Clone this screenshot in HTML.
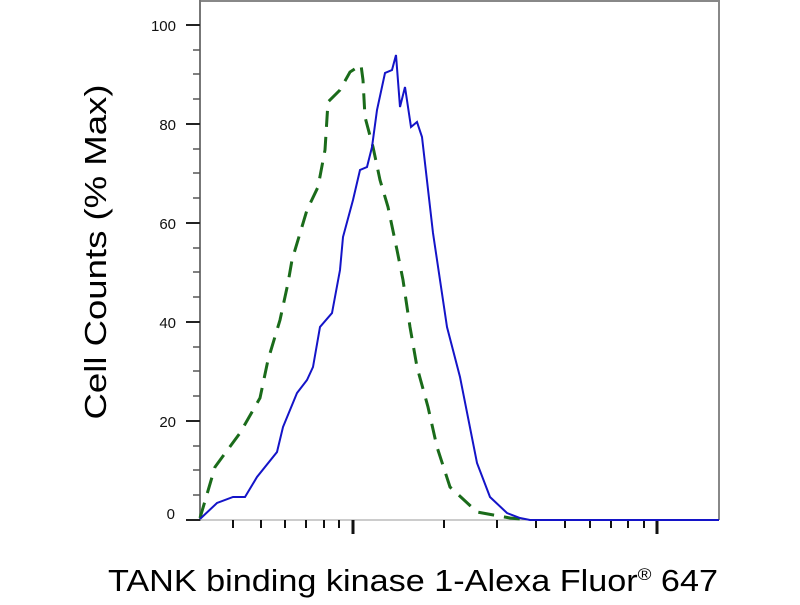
<!DOCTYPE html>
<html><head><style>html,body{margin:0;padding:0;background:#fff}</style></head>
<body>
<svg width="800" height="600" xmlns="http://www.w3.org/2000/svg" font-family="Liberation Sans, sans-serif">
<rect width="800" height="600" fill="#fff"/>
<polyline points="200,1 719,1 719,520" fill="none" stroke="#888" stroke-width="2"/>
<line x1="200" y1="0" x2="200" y2="521" stroke="#777" stroke-width="2"/>
<line x1="190" y1="520" x2="719" y2="520" stroke="#999" stroke-width="1"/>
<g stroke="#222" stroke-width="2">
<line x1="186" y1="520" x2="200" y2="520"/><line x1="186" y1="421" x2="200" y2="421"/><line x1="186" y1="322" x2="200" y2="322"/><line x1="186" y1="223" x2="200" y2="223"/><line x1="186" y1="124" x2="200" y2="124"/><line x1="186" y1="25" x2="200" y2="25"/>
</g>
<g stroke="#555" stroke-width="1.5">
<line x1="193" y1="470" x2="200" y2="470"/><line x1="193" y1="371" x2="200" y2="371"/><line x1="193" y1="272" x2="200" y2="272"/><line x1="193" y1="173" x2="200" y2="173"/><line x1="193" y1="74" x2="200" y2="74"/>
<line x1="193" y1="495" x2="200" y2="495"/><line x1="193" y1="446" x2="200" y2="446"/><line x1="193" y1="396" x2="200" y2="396"/><line x1="193" y1="347" x2="200" y2="347"/><line x1="193" y1="297" x2="200" y2="297"/><line x1="193" y1="248" x2="200" y2="248"/><line x1="193" y1="198" x2="200" y2="198"/><line x1="193" y1="149" x2="200" y2="149"/><line x1="193" y1="99" x2="200" y2="99"/><line x1="193" y1="50" x2="200" y2="50"/>
</g>
<g stroke="#111" stroke-width="2">
<line x1="233" y1="520" x2="233" y2="528"/><line x1="261" y1="520" x2="261" y2="528"/><line x1="285" y1="520" x2="285" y2="528"/><line x1="306" y1="520" x2="306" y2="528"/><line x1="324" y1="520" x2="324" y2="528"/><line x1="339" y1="520" x2="339" y2="528"/>
<line x1="353" y1="520" x2="353" y2="534" stroke-width="3"/>
<line x1="444" y1="520" x2="444" y2="528"/><line x1="497" y1="520" x2="497" y2="528"/><line x1="536" y1="520" x2="536" y2="528"/><line x1="565" y1="520" x2="565" y2="528"/><line x1="590" y1="520" x2="590" y2="528"/><line x1="611" y1="520" x2="611" y2="528"/><line x1="628" y1="520" x2="628" y2="528"/><line x1="644" y1="520" x2="644" y2="528"/>
<line x1="657" y1="520" x2="657" y2="534" stroke-width="3"/>
</g>
<g font-size="15" fill="#111" text-anchor="end">
<text x="176" y="31">100</text><text x="176" y="130">80</text><text x="176" y="229">60</text><text x="176" y="328">40</text><text x="176" y="427">20</text><text x="175" y="519">0</text>
</g>
<polyline fill="none" stroke="#1a6b1a" stroke-width="3" stroke-dasharray="16,10" points="200,518 215,467 240,433 260,398 268,360 280,320 288,283 292,260 307,210 318,187 325,150 328,102 340,90 350,72 361,65 363,80 365,117 373,147 380,180 388,207 397,250 403,280 410,327 417,367 428,407 437,447 450,487 477,512 510,518 520,519"/>
<polyline fill="none" stroke="#1414c8" stroke-width="2" points="200,519 217,503 233,497 245,497 257,477 277,452 283,427 297,393 307,380 313,367 320,327 332,313 340,270 343,237 353,200 360,170 367,167 372,147 377,110 385,73 392,70 396,55 400,107 405,87 411,127 417,122 422,137 433,233 440,280 447,327 460,377 477,463 490,497 507,513 520,518 530,520 719,520"/>
<text transform="translate(106,252) rotate(-90)" font-size="31" text-anchor="middle" fill="#000" textLength="335" lengthAdjust="spacingAndGlyphs">Cell Counts (% Max)</text>
<text x="108" y="591" font-size="31" fill="#000" textLength="610" lengthAdjust="spacingAndGlyphs">TANK binding kinase 1-Alexa Fluor<tspan font-size="17" dy="-11">®</tspan><tspan dy="11"> 647</tspan></text>
</svg>
</body></html>
